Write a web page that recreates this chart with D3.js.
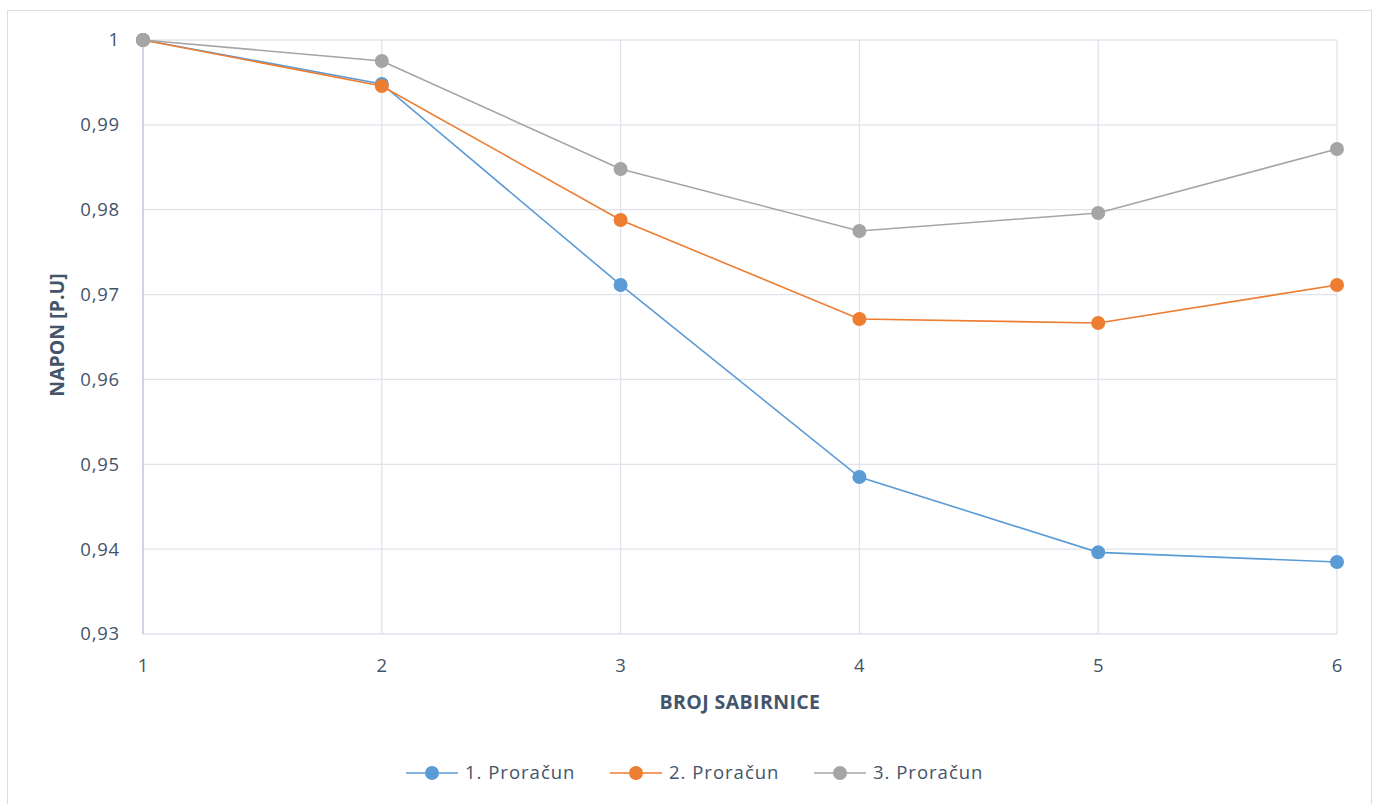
<!DOCTYPE html>
<html><head><meta charset="utf-8">
<script src="https://cdn.jsdelivr.net/npm/d3@7"></script>
<style>body{margin:0;background:#fff;} text{font-family:"Open Sans",sans-serif;}</style>
</head><body>
<svg id="c" width="1373" height="804"></svg>
<script>
const categories = [1, 2, 3, 4, 5, 6];
const seriesNames = ["1. Proračun", "2. Proračun", "3. Proračun"];
const series1 = [1, 0.99482, 0.97113, 0.94850, 0.93962, 0.93849];
const series2 = [1, 0.99458, 0.97879, 0.96712, 0.96665, 0.97113];
const series3 = [1, 0.99753, 0.98480, 0.97749, 0.97961, 0.98716];
const colors = ["#5b9bd5", "#ed7d31", "#a5a5a5"];
const yTicks = [0.93, 0.94, 0.95, 0.96, 0.97, 0.98, 0.99, 1];
const allSeries = [series1, series2, series3];

const svg = d3.select("#c");
const txt = "#44546a";
svg.append("rect").attr("x", 7.5).attr("y", 10.5).attr("width", 1364).attr("height", 800)
  .attr("fill", "#fff").attr("stroke", "#d9dde6");

const x = d3.scaleLinear().domain([1, 6]).range([143, 1337]);
const y = d3.scaleLinear().domain([0.93, 1]).range([634, 40]);

const g = svg.append("g");
g.selectAll(".hg").data(yTicks).join("line")
  .attr("x1", x(1)).attr("x2", x(6)).attr("y1", d => y(d)).attr("y2", d => y(d))
  .attr("stroke", "#dfe3ec").attr("stroke-width", 1.3);
g.selectAll(".vg").data(categories.slice(1)).join("line")
  .attr("x1", d => x(d)).attr("x2", d => x(d)).attr("y1", y(1)).attr("y2", y(0.93))
  .attr("stroke", "#dfe3ec").attr("stroke-width", 1.3);
g.append("line").attr("x1", x(1)).attr("x2", x(1)).attr("y1", y(1)).attr("y2", y(0.93))
  .attr("stroke", "#b4bfd3").attr("stroke-width", 1.3);

const fmt = d => d === 1 ? "1" : d3.format(".2f")(d).replace(".", ",");
g.selectAll(".yl").data(yTicks).join("text")
  .attr("x", 120).attr("y", d => y(d)).attr("dy", "0.35em").attr("text-anchor", "end")
  .attr("font-size", 18.5).attr("letter-spacing", 0.8).attr("fill", txt).text(fmt);
g.selectAll(".xl").data(categories).join("text")
  .attr("x", d => x(d)).attr("y", 666).attr("dy", "0.35em").attr("text-anchor", "middle")
  .attr("font-size", 18.5).attr("fill", txt).text(d => d);

svg.append("text").attr("x", 740).attr("y", 702).attr("dy", "0.35em").attr("text-anchor", "middle")
  .attr("font-size", 19.5).attr("font-weight", "bold").attr("letter-spacing", 0.4).attr("fill", txt).text("BROJ SABIRNICE");
svg.append("text").attr("transform", "translate(57,335) rotate(-90)").attr("dy", "0.35em").attr("text-anchor", "middle")
  .attr("font-size", 19.5).attr("font-weight", "bold").attr("fill", txt).text("NAPON [P.U]");

const line = d3.line().x((d, i) => x(categories[i])).y(d => y(d));
allSeries.forEach((s, k) => {
  g.append("path").datum(s).attr("d", line).attr("fill", "none")
    .attr("stroke", colors[k]).attr("stroke-width", 1.6);
});
allSeries.forEach((s, k) => {
  g.selectAll(".m" + k).data(s).join("circle")
    .attr("cx", (d, i) => x(categories[i])).attr("cy", d => y(d)).attr("r", 7)
    .attr("fill", colors[k]);
});

const legX = [432, 636, 840];
seriesNames.forEach((n, k) => {
  const lg = svg.append("g");
  lg.append("line").attr("x1", legX[k] - 26).attr("x2", legX[k] + 26).attr("y1", 773).attr("y2", 773)
    .attr("stroke", colors[k]).attr("stroke-width", 1.6);
  lg.append("circle").attr("cx", legX[k]).attr("cy", 773).attr("r", 7).attr("fill", colors[k]);
  lg.append("text").attr("x", legX[k] + 33).attr("y", 773).attr("dy", "0.35em")
    .attr("font-size", 18.5).attr("letter-spacing", 1).attr("fill", txt).text(n);
});
</script>
</body></html>
